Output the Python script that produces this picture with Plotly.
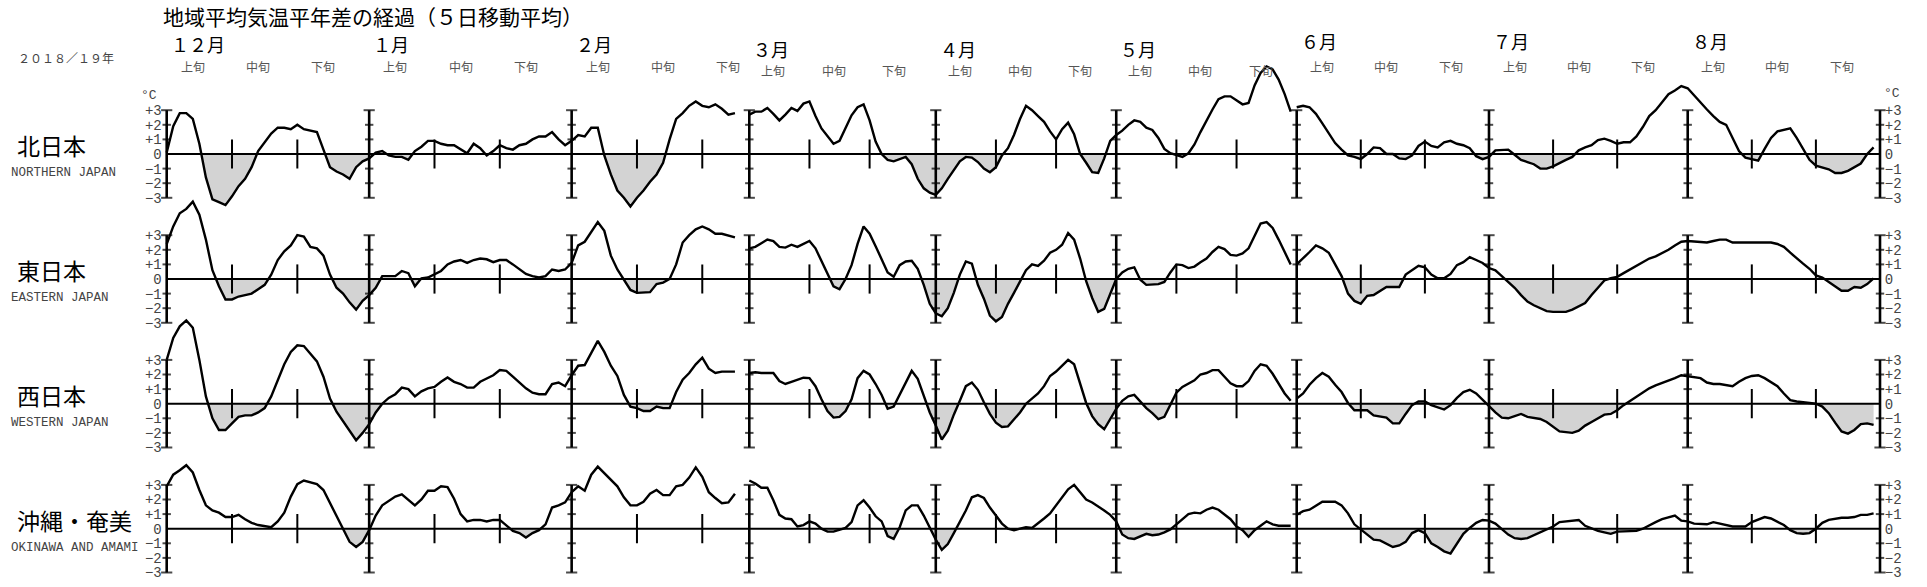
import pandas as pd
import plotly.graph_objects as go

# ---------------- data (5-day running mean anomaly, degC, daily) ----------------
regions_ja = ["北日本", "東日本", "西日本", "沖縄・奄美"]
regions_en = ["NORTHERN JAPAN", "EASTERN JAPAN", "WESTERN JAPAN", "OKINAWA AND AMAMI"]
season_starts = ["2018-12-01", "2019-03-01", "2019-06-01"]
season_ends = ["2019-02-28", "2019-05-31", "2019-08-31"]
tick_values = [3, 2, 1, 0, -1, -2, -3]
tick_labels = ["+3", "+2", "+1", "0", "\u22121", "\u22122", "\u22123"]
decade_names = ["上旬", "中旬", "下旬"]

winter_north = [0.1, 1.9, 2.8, 2.8, 2.4, 0.7, -1.6, -3.1, -3.3, -3.5,
                -2.9, -2.2, -1.7, -0.9, 0.2, 0.8, 1.4, 1.8, 1.8, 1.7,
                2.0, 1.7, 1.6, 1.5, 0.3, -0.9, -1.2, -1.4, -1.7, -0.9,
                -0.5, -0.3, 0.1, 0.2, -0.1, -0.2, -0.2, -0.4, 0.2, 0.5,
                0.9, 0.9, 0.7, 0.6, 0.6, 0.3, 0.05, 0.7, 0.4, -0.1,
                0.2, 0.6, 0.4, 0.3, 0.6, 0.7, 1.0, 1.2, 1.2, 1.5,
                1.0, 0.6, 0.9, 1.3, 1.2, 1.8, 1.8, -0.1, -1.4, -2.5,
                -3.0, -3.6, -3.0, -2.5, -1.9, -1.4, -0.6, 1.0, 2.4, 2.8,
                3.3, 3.6, 3.3, 3.2, 3.4, 3.1, 2.7, 2.8]
winter_east = [2.4, 3.6, 4.5, 4.8, 5.3, 4.4, 2.7, 0.6, -0.5, -1.4,
               -1.4, -1.2, -1.1, -1.0, -0.7, -0.4, 0.3, 1.3, 1.9, 2.3,
               3.0, 2.9, 2.2, 2.1, 1.6, 0.3, -0.6, -1.0, -1.6, -2.1,
               -1.5, -1.1, -0.6, 0.2, 0.2, 0.2, 0.55, 0.4, -0.5, 0.05,
               0.1, 0.3, 0.55, 1.0, 1.2, 1.3, 1.1, 1.3, 1.4, 1.35,
               1.15, 1.3, 1.3, 1.0, 0.7, 0.35, 0.2, 0.1, 0.2, 0.65,
               0.55, 0.65, 1.1, 2.3, 2.55, 3.25, 3.9, 3.3, 1.6, 0.65,
               -0.1, -0.75, -0.95, -0.9, -0.9, -0.35, -0.25, 0.0, 1.0, 2.5,
               3.0, 3.4, 3.6, 3.4, 3.1, 3.1, 3.0, 2.85]
winter_west = [3.0, 4.5, 5.3, 5.7, 5.2, 3.0, 0.5, -1.0, -1.8, -1.8,
               -1.35, -0.9, -0.8, -0.8, -0.6, -0.3, 0.5, 1.6, 2.7, 3.55,
               4.0, 3.95, 3.45, 2.9, 1.85, 0.35, -0.55, -1.2, -1.85, -2.5,
               -2.0, -1.4, -0.6, 0.0, 0.4, 0.65, 1.1, 1.0, 0.5, 0.85,
               1.05, 1.15, 1.5, 1.8, 1.5, 1.35, 1.1, 1.1, 1.5, 1.75,
               1.95, 2.3, 2.25, 1.85, 1.45, 1.05, 0.75, 0.65, 0.65, 1.35,
               1.45, 1.2, 1.95, 2.6, 2.65, 3.5, 4.3, 3.55, 2.6, 1.9,
               0.6, -0.2, -0.3, -0.5, -0.5, -0.2, -0.3, -0.3, 0.8, 1.65,
               2.1, 2.7, 3.15, 2.4, 2.1, 2.2, 2.2, 2.2]
winter_okinawa = [2.9, 3.7, 4.0, 4.35, 3.85, 2.65, 1.6, 1.25, 1.1, 0.8,
                  0.8, 0.95, 0.65, 0.4, 0.25, 0.2, 0.1, 0.5, 1.1, 2.2,
                  3.05, 3.3, 3.15, 3.05, 2.65, 1.75, 0.8, -0.05, -0.9, -1.25,
                  -0.9, -0.1, 0.9, 1.6, 1.9, 2.2, 2.35, 1.95, 1.6, 2.0,
                  2.6, 2.6, 2.9, 2.85, 2.05, 1.0, 0.5, 0.6, 0.6, 0.5,
                  0.6, 0.6, 0.2, -0.15, -0.3, -0.6, -0.3, -0.1, 0.3, 1.45,
                  1.6, 1.8, 2.5, 2.9, 2.6, 3.7, 4.25, 3.8, 3.3, 2.9,
                  2.15, 1.6, 1.6, 1.85, 2.4, 2.65, 2.3, 2.3, 2.9, 3.0,
                  3.5, 4.2, 3.55, 2.5, 2.1, 1.75, 1.8, 2.4]

spring_north = [2.7, 2.9, 2.9, 3.15, 2.75, 2.3, 2.7, 3.15, 2.95, 3.45,
                3.6, 2.6, 1.75, 1.2, 0.7, 0.9, 1.8, 2.65, 3.2, 3.4,
                2.3, 0.85, 0.0, -0.4, -0.5, -0.35, -0.2, -0.7, -1.7, -2.35,
                -2.65, -2.8, -2.35, -1.7, -1.1, -0.5, -0.2, -0.25, -0.55, -1.0,
                -1.25, -0.9, -0.1, 0.4, 1.3, 2.4, 3.3, 3.0, 2.6, 2.2,
                1.55, 1.0, 1.7, 2.15, 1.35, 0.0, -0.6, -1.25, -1.3, -0.3,
                0.9, 1.3, 1.6, 2.0, 2.3, 2.2, 1.8, 1.65, 1.1, 0.35,
                0.05, -0.1, -0.2, 0.05, 0.65, 1.5, 2.3, 3.05, 3.75, 3.95,
                3.95, 3.7, 3.4, 3.5, 4.7, 5.55, 6.0, 5.8, 5.1, 4.1,
                2.9]
spring_east = [2.1, 2.2, 2.45, 2.7, 2.6, 2.2, 2.15, 2.35, 2.2, 2.4,
               2.6, 2.1, 1.2, 0.4, -0.5, -0.7, 0.0, 0.95, 2.4, 3.6,
               3.1, 2.25, 1.3, 0.45, 0.15, 0.95, 1.2, 1.25, 0.7, -0.4,
               -1.7, -2.35, -2.55, -2.0, -0.95, 0.3, 1.2, 1.05, -0.4, -1.35,
               -2.5, -2.9, -2.6, -1.7, -0.95, -0.15, 0.6, 1.0, 0.9, 1.25,
               1.8, 2.0, 2.35, 3.15, 2.7, 1.4, -0.15, -1.3, -2.25, -2.05,
               -1.05, 0.0, 0.45, 0.7, 0.8, -0.05, -0.4, -0.35, -0.35, -0.2,
               0.45, 1.0, 0.95, 0.75, 0.85, 1.15, 1.4, 1.85, 2.2, 2.05,
               1.65, 1.6, 1.75, 2.1, 3.0, 3.8, 3.9, 3.5, 2.7, 1.8,
               1.0]
spring_west = [2.1, 2.15, 2.1, 2.1, 2.1, 1.55, 1.35, 1.5, 1.65, 1.78,
               1.75, 1.2, 0.3, -0.5, -0.95, -0.9, -0.5, 0.3, 1.75, 2.25,
               2.0, 1.35, 0.6, -0.35, -0.2, 0.6, 1.4, 2.25, 1.7, 0.55,
               -0.6, -1.5, -2.45, -1.85, -0.75, 0.2, 1.2, 1.45, 0.95, 0.1,
               -0.7, -1.3, -1.6, -1.55, -1.1, -0.6, 0.0, 0.35, 0.7, 1.2,
               1.9, 2.2, 2.6, 3.0, 2.7, 1.35, 0.05, -0.85, -1.4, -1.75,
               -1.05, -0.35, 0.2, 0.5, 0.6, 0.15, -0.3, -0.65, -1.05, -0.9,
               -0.1, 0.75, 1.15, 1.4, 1.6, 2.0, 2.1, 2.3, 2.3, 1.85,
               1.4, 1.2, 1.2, 1.55, 2.25, 2.7, 2.6, 2.05, 1.35, 0.7,
               0.2]
spring_okinawa = [3.3, 3.1, 2.8, 2.8, 1.95, 0.95, 0.7, 0.65, 0.15, 0.25,
                  0.5, 0.35, 0.0, -0.2, -0.2, -0.1, 0.05, 0.45, 1.6, 1.95,
                  1.45, 0.85, 0.5, -0.5, -0.7, 0.1, 1.25, 1.6, 1.6, 0.9,
                  0.05, -0.75, -1.45, -1.05, -0.3, 0.45, 1.25, 2.15, 2.3, 2.1,
                  1.45, 0.9, 0.35, 0.0, -0.1, 0.0, 0.1, 0.05, 0.35, 0.7,
                  1.05, 1.6, 2.1, 2.7, 3.0, 2.5, 2.0, 1.8, 1.55, 1.25,
                  0.95, 0.5, -0.4, -0.65, -0.7, -0.55, -0.35, -0.45, -0.4, -0.25,
                  -0.05, 0.3, 0.65, 1.0, 1.1, 1.05, 1.3, 1.45, 1.3, 0.95,
                  0.65, 0.15, -0.1, -0.55, -0.1, 0.2, 0.5, 0.3, 0.2, 0.2,
                  0.2]

summer_north = [3.2, 3.3, 3.2, 2.75, 2.1, 1.45, 0.75, 0.3, -0.1, -0.2,
                -0.35, 0.0, 0.45, 0.4, 0.0, 0.0, -0.3, -0.35, -0.1, 0.55,
                0.85, 0.55, 0.45, 0.8, 0.9, 0.7, 0.6, 0.4, -0.15, -0.35,
                -0.2, 0.25, 0.3, 0.3, -0.05, -0.4, -0.55, -0.7, -1.0, -1.0,
                -0.85, -0.6, -0.4, -0.2, 0.25, 0.45, 0.6, 0.95, 1.05, 0.9,
                0.7, 0.8, 0.8, 1.2, 1.85, 2.6, 3.0, 3.55, 4.1, 4.35,
                4.65, 4.5, 4.0, 3.5, 3.05, 2.6, 2.2, 2.0, 1.1, 0.2,
                -0.25, -0.35, -0.45, 0.35, 1.1, 1.55, 1.65, 1.75, 1.1, 0.3,
                -0.4, -0.8, -0.95, -1.05, -1.3, -1.3, -1.15, -0.9, -0.65, 0.0,
                0.45]
summer_east = [1.0, 1.4, 1.85, 2.3, 2.1, 1.8, 1.0, 0.2, -1.0, -1.5,
               -1.7, -1.15, -1.1, -0.85, -0.55, -0.55, -0.55, 0.3, 0.6, 0.9,
               0.8, 0.3, 0.05, 0.05, 0.35, 0.95, 1.15, 1.5, 1.3, 1.1,
               0.75, 0.6, 0.2, -0.2, -0.6, -1.1, -1.55, -1.8, -2.0, -2.2,
               -2.25, -2.25, -2.25, -2.1, -1.9, -1.65, -1.1, -0.6, -0.1, 0.05,
               0.15, 0.4, 0.65, 0.95, 1.15, 1.4, 1.55, 1.75, 2.0, 2.3,
               2.55, 2.6, 2.55, 2.5, 2.5, 2.6, 2.7, 2.7, 2.5, 2.5,
               2.5, 2.5, 2.5, 2.5, 2.5, 2.4, 2.2, 1.8, 1.4, 1.05,
               0.7, 0.25, 0.1, -0.2, -0.5, -0.8, -0.8, -0.55, -0.6, -0.35,
               0.05]
summer_west = [0.35, 0.7, 1.3, 1.75, 2.1, 1.85, 1.3, 0.8, 0.05, -0.45,
               -0.45, -0.45, -0.8, -0.85, -0.95, -1.35, -1.35, -0.7, -0.1, 0.15,
               0.15, -0.1, -0.25, -0.4, -0.1, 0.4, 0.8, 0.95, 0.7, 0.25,
               -0.2, -0.6, -0.95, -1.0, -0.85, -0.7, -0.9, -1.0, -1.05, -1.25,
               -1.6, -1.9, -1.95, -2.0, -1.85, -1.5, -1.25, -1.0, -0.75, -0.7,
               -0.45, -0.1, 0.2, 0.5, 0.75, 1.05, 1.25, 1.4, 1.55, 1.75,
               1.95, 1.9, 1.8, 1.75, 1.45, 1.35, 1.35, 1.25, 1.2, 1.5,
               1.75, 1.9, 1.95, 1.75, 1.5, 1.2, 0.7, 0.25, 0.15, 0.1,
               0.05, 0.0, -0.2, -0.65, -1.3, -1.9, -2.05, -1.8, -1.4, -1.35,
               -1.45]
summer_okinawa = [0.95, 1.2, 1.3, 1.55, 1.85, 1.85, 1.85, 1.6, 1.05, 0.3,
                  -0.05, -0.45, -0.75, -0.8, -1.05, -1.25, -1.15, -0.9, -0.3, -0.1,
                  -0.3, -1.0, -1.25, -1.55, -1.7, -1.05, -0.35, 0.05, 0.4, 0.6,
                  0.55, 0.35, -0.05, -0.4, -0.65, -0.7, -0.65, -0.45, -0.2, 0.0,
                  0.15, 0.45, 0.5, 0.5, 0.6, 0.2, 0.0, -0.15, -0.25, -0.35,
                  -0.2, -0.2, -0.15, -0.15, 0.0, 0.25, 0.45, 0.65, 0.8, 0.9,
                  0.55, 0.5, 0.35, 0.3, 0.3, 0.45, 0.35, 0.25, 0.15, 0.15,
                  0.15, 0.45, 0.6, 0.8, 0.7, 0.5, 0.25, -0.1, -0.3, -0.35,
                  -0.3, 0.0, 0.4, 0.6, 0.7, 0.75, 0.75, 0.8, 0.95, 0.95,
                  1.05]

series = [
    [winter_north, spring_north, summer_north],
    [winter_east, spring_east, summer_east],
    [winter_west, spring_west, summer_west],
    [winter_okinawa, spring_okinawa, summer_okinawa],
]

# ---------------- layout geometry (page pixels) ----------------
W, H = 1927, 587
COL_PX = [(166.7, 748.0), (749.3, 1296.7), (1296.7, 1880.0)]
ZERO_PX = [154.0, 279.0, 403.7, 528.7]
UNIT = 14.6
YLO, YHI = -3.9, 6.3
PAD = 0.6
MONTH_Y = [44, 49, 41]
DEC_Y = [67, 71, 67]

LINE_C = "black"
FILL_C = "rgb(211,211,211)"
TXT_C = "#444444"
MONO = "Liberation Mono, DejaVu Sans Mono, monospace"
CJK = "Noto Sans CJK JP, sans-serif"


def px(x):
    return x / W


def py(y):
    return 1 - y / H


def xname(c):
    return "x" if c == 0 else f"x{c + 1}"


def yname(r):
    return "y" if r == 0 else f"y{r + 1}"


def ts(t):
    return pd.Timestamp(t).strftime("%Y-%m-%d %H:%M:%S")


def fullwidth(s):
    return s.translate(str.maketrans("0123456789", "０１２３４５６７８９"))


fig = go.Figure()
layout = dict(width=W, height=H, margin=dict(l=0, r=0, t=0, b=0),
              paper_bgcolor="white", plot_bgcolor="rgba(0,0,0,0)",
              showlegend=False, hovermode=False)
shapes, annotations = [], []

# x axes (one per season)
for c, (s, e) in enumerate(zip(season_starts, season_ends)):
    s, e = pd.Timestamp(s), pd.Timestamp(e)
    p0, p1 = COL_PX[c]
    sc = (p1 - p0) / (e - s).days
    key = "xaxis" if c == 0 else f"xaxis{c + 1}"
    layout[key] = dict(type="date", visible=False, fixedrange=True, anchor="y",
                       range=[ts(s - pd.Timedelta(days=PAD)), ts(e + pd.Timedelta(days=PAD))],
                       domain=[px(p0 - PAD * sc), px(p1 + PAD * sc)])

# y axes (one per region, plus a right-hand copy)
for r in range(4):
    top = ZERO_PX[r] - YHI * UNIT
    bot = ZERO_PX[r] - YLO * UNIT
    common = dict(range=[YLO, YHI], tickvals=tick_values, ticktext=tick_labels,
                  showgrid=False, zeroline=False, showline=False, ticks="",
                  fixedrange=True, tickfont=dict(family=MONO, size=14, color=TXT_C))
    key = "yaxis" if r == 0 else f"yaxis{r + 1}"
    layout[key] = dict(domain=[py(bot), py(top)], anchor="x", side="left", **common)
    layout[f"yaxis{r + 5}"] = dict(overlaying=yname(r), anchor="x3", side="right", **common)
    fig.add_trace(go.Scatter(x=[season_ends[2]], y=[0], xaxis="x3", yaxis=f"y{r + 5}",
                             mode="markers", marker=dict(opacity=0), hoverinfo="skip"))

for r in range(4):
    for c in range(3):
        vals = series[r][c]
        start = pd.Timestamp(season_starts[c])
        end = pd.Timestamp(season_ends[c])
        dates = pd.date_range(start, periods=len(vals), freq="D")
        # negative part with exact zero crossings
        fx, fy = [], []
        for i, v in enumerate(vals):
            if i > 0 and (vals[i - 1] < 0) != (v < 0):
                t = vals[i - 1] / (vals[i - 1] - v)
                fx.append(start + pd.Timedelta(days=i - 1 + t))
                fy.append(0.0)
            fx.append(dates[i])
            fy.append(min(v, 0.0))
        fig.add_trace(go.Scatter(x=fx, y=fy, mode="lines", fill="tozeroy", fillcolor=FILL_C,
                                 line=dict(width=0, color=FILL_C), xaxis=xname(c), yaxis=yname(r),
                                 hoverinfo="skip"))
        fig.add_trace(go.Scatter(x=dates, y=vals, mode="lines",
                                 line=dict(color=LINE_C, width=2.4),
                                 xaxis=xname(c), yaxis=yname(r), hoverinfo="skip"))
        # month dividers with unit ticks
        months = list(pd.date_range(start, end, freq="MS"))
        divs = months + ([end] if c == 2 else [])
        for d in divs:
            shapes.append(dict(type="line", xref=xname(c), yref=yname(r), x0=ts(d), x1=ts(d),
                               y0=-3, y1=3, line=dict(color=LINE_C, width=2.6), layer="above"))
            tv = [v for v in tick_values if v != 0]
            fig.add_trace(go.Scatter(x=[d] * len(tv), y=tv, mode="markers", cliponaxis=False,
                                     marker=dict(symbol="line-ew", size=[8 if abs(v) == 3 else 6 for v in tv],
                                                 line=dict(color=LINE_C, width=2)),
                                     xaxis=xname(c), yaxis=yname(r), hoverinfo="skip"))
        # 10-day ticks
        for m in months:
            for dd in (10, 20):
                d = m + pd.Timedelta(days=dd)
                shapes.append(dict(type="line", xref=xname(c), yref=yname(r), x0=ts(d), x1=ts(d),
                                   y0=-1, y1=1, line=dict(color=LINE_C, width=2), layer="above"))
    # zero line across all seasons
    shapes.append(dict(type="line", xref="paper", yref=yname(r),
                       x0=px(COL_PX[0][0]), x1=px(COL_PX[2][1]), y0=0, y1=0,
                       line=dict(color=LINE_C, width=2), layer="above"))
    # region labels
    annotations.append(dict(text=regions_ja[r], xref="paper", yref="paper", x=px(15),
                            y=py(ZERO_PX[r] - 9), xanchor="left", yanchor="middle",
                            showarrow=False, font=dict(family=CJK, size=23, color="black")))
    annotations.append(dict(text=regions_en[r], xref="paper", yref="paper", x=px(9),
                            y=py(ZERO_PX[r] + 19), xanchor="left", yanchor="middle",
                            showarrow=False, font=dict(family=MONO, size=12.5, color=TXT_C)))

# month & decade headers
for c in range(3):
    start = pd.Timestamp(season_starts[c])
    end = pd.Timestamp(season_ends[c])
    for m in pd.date_range(start, end, freq="MS"):
        annotations.append(dict(text=fullwidth(f"{m.month}月"), xref=xname(c), yref="paper",
                                x=ts(m), y=py(MONTH_Y[c]), xanchor="left", yanchor="middle",
                                xshift=3, showarrow=False, borderpad=0,
                                font=dict(family=CJK, size=18, color="black")))
        for k, nm in enumerate(decade_names):
            d = m + pd.Timedelta(days=4 + 10 * k)
            annotations.append(dict(text=nm, xref=xname(c), yref="paper", x=ts(d),
                                    y=py(DEC_Y[c]), xanchor="center", yanchor="middle",
                                    showarrow=False, borderpad=0,
                                    font=dict(family=CJK, size=12, color="#555555")))

annotations.append(dict(text="地域平均気温平年差の経過（５日移動平均）", xref="paper", yref="paper",
                        x=px(162), y=1.0, xanchor="left", yanchor="top", showarrow=False,
                        borderpad=0, font=dict(family=CJK, size=21, color="black")))
annotations.append(dict(text="２０１８／１９年", xref="paper", yref="paper", x=px(16), y=py(58),
                        xanchor="left", yanchor="middle", showarrow=False,
                        font=dict(family=CJK, size=12, color=TXT_C)))
annotations.append(dict(text="°C", xref="paper", yref="paper", x=px(COL_PX[0][0]), y=py(95),
                        xanchor="right", yanchor="middle", xshift=-8, showarrow=False,
                        font=dict(family=MONO, size=13, color=TXT_C)))
annotations.append(dict(text="°C", xref="paper", yref="paper", x=px(COL_PX[2][1]), y=py(93),
                        xanchor="left", yanchor="middle", xshift=2, showarrow=False,
                        font=dict(family=MONO, size=13, color=TXT_C)))

layout["shapes"] = shapes
layout["annotations"] = annotations
fig.update_layout(**layout)
# place the figure flush with the page corner (no default body margin), no mode bar
fig.write_html("out.html", config={"displayModeBar": False, "staticPlot": True},
               post_script="document.body.style.margin='0';document.body.style.overflow='hidden';")
